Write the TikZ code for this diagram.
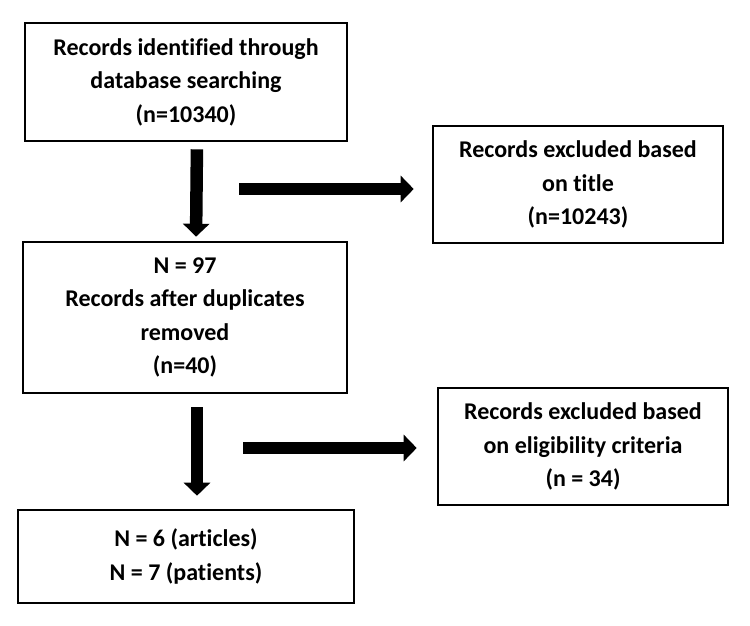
\documentclass[tikz,border=0pt]{standalone}
\usepackage{fontspec}
\setmainfont{Carlito}[Ligatures=NoCommon]
\usetikzlibrary{arrows.meta}
\tikzset{
  box/.style={draw=black, line width=2.6pt, rectangle, inner sep=0pt, align=center,
    font=\fontsize{24}{33.5}\selectfont\bfseries},
  bigarrow/.style={line width=12.5pt, -{Triangle[width=26pt,length=13pt]}}
}
\begin{document}
\begin{tikzpicture}[x=1pt,y=-1pt]
\useasboundingbox (0,0) rectangle (750,625);
\node[box, minimum width=322pt, minimum height=118pt] (b1) at (186,82) {Records identified through\\database searching\\(n=10340)};
\node[box, minimum width=290pt, minimum height=117pt] (b3) at (578,184.5) {Records excluded based\\on title\\(n=10243)};
\node[box, minimum width=324pt, minimum height=151pt] (b2) at (185,317.5) {N = 97\\Records after duplicates\\removed\\(n=40)};
\node[box, minimum width=290pt, minimum height=117pt] (b4) at (583,446.5) {Records excluded based\\on eligibility criteria\\(n = 34)};
\node[box, minimum width=336pt, minimum height=93pt] (b5) at (186,556.5) {N = 6 (articles)\\N = 7 (patients)};
\coordinate (h1) at (239,189);
\coordinate (h2) at (243,448);
\coordinate (v2) at (197,407);
\draw[bigarrow, shorten <=7pt, shorten >=4pt] ([xshift=11pt]b1.south) -- ([xshift=11pt]b2.north);
\draw[bigarrow, shorten >=18pt] (h1) -- (b3.west |- h1);
\draw[bigarrow, shorten >=13pt] (v2) -- (v2 |- b5.north);
\draw[bigarrow, shorten >=20pt] (h2) -- (b4.west |- h2);
\end{tikzpicture}
\end{document}
